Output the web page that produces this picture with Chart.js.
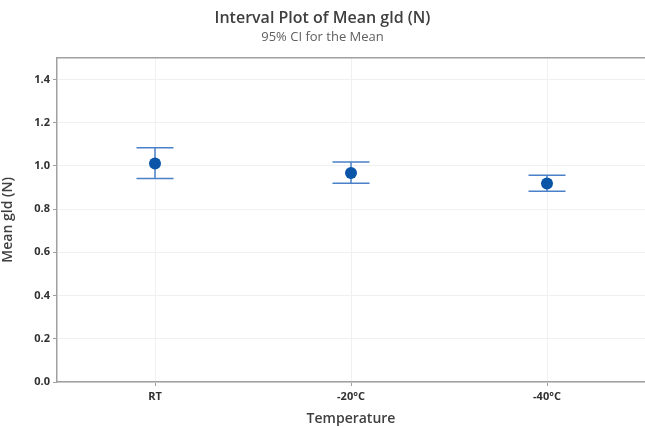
<!DOCTYPE html>
<html>
<head>
<meta charset="utf-8">
<script src="https://cdn.jsdelivr.net/npm/chart.js@4/dist/chart.umd.min.js"></script>
<style>
  html, body { margin: 0; padding: 0; background: #fff; overflow: hidden; }
  #wrap { width: 645px; height: 427px; }
  canvas { display: block; }
</style>
</head>
<body>
<div id="wrap"><canvas id="c" width="645" height="427"></canvas></div>
<script>
const categories = ["RT", "-20°C", "-40°C"];
const means = [1.011, 0.967, 0.918];
const lower = [0.941, 0.920, 0.883];
const upper = [1.084, 1.018, 0.957];
const yTicks = [0.0, 0.2, 0.4, 0.6, 0.8, 1.0, 1.2, 1.4];

const barColor = "#4a80c8";
const dotColor = "#0a55a8";
const font = "'Open Sans', 'Noto Sans', sans-serif";

// draws the CI whiskers and caps from the lower/upper arrays
const errorBars = {
    id: "errorBars",
    beforeDatasetsDraw(chart) {
        const ctx = chart.ctx;
        const xs = chart.scales.x, ys = chart.scales.y;
        ctx.save();
        ctx.strokeStyle = barColor;
        ctx.lineWidth = 1.5;
        categories.forEach((c, i) => {
            const x = xs.getPixelForValue(i);
            const yl = ys.getPixelForValue(lower[i]);
            const yu = ys.getPixelForValue(upper[i]);
            ctx.beginPath();
            ctx.moveTo(x, yl); ctx.lineTo(x, yu);
            ctx.moveTo(x - 18.5, yu); ctx.lineTo(x + 18.5, yu);
            ctx.moveTo(x - 18.5, yl); ctx.lineTo(x + 18.5, yl);
            ctx.stroke();
        });
        ctx.restore();
    },
    afterDraw(chart) {
        const ctx = chart.ctx;
        const a = chart.chartArea;
        ctx.save();
        ctx.strokeStyle = "#a0a0a0";
        ctx.lineWidth = 1.5;
        ctx.beginPath();
        ctx.moveTo(a.left, a.top); ctx.lineTo(a.right, a.top);
        ctx.stroke();
        ctx.restore();
    }
};

new Chart(document.getElementById("c").getContext("2d"), {
    type: "line",
    data: {
        labels: categories,
        datasets: [{
            data: means,
            showLine: false,
            pointRadius: 6,
            pointHoverRadius: 6,
            pointBackgroundColor: dotColor,
            pointBorderColor: dotColor,
            pointBorderWidth: 0
        }]
    },
    options: {
        responsive: false,
        animation: false,
        layout: { padding: 0, autoPadding: false },
        plugins: {
            legend: { display: false },
            tooltip: { enabled: false },
            title: {
                display: true,
                text: "Interval Plot of Mean gld (N)",
                color: "#404040",
                font: { family: font, size: 16, weight: "600" },
                padding: { top: 9, bottom: 0 }
            },
            subtitle: {
                display: true,
                text: "95% CI for the Mean",
                color: "#606060",
                font: { family: font, size: 13 },
                padding: { top: 1, bottom: 13 }
            }
        },
        scales: {
            x: {
                type: "category",
                offset: true,
                grid: { color: "#f0f0f0", offset: false, drawTicks: true, tickLength: 4, tickColor: "#a0a0a0" },
                border: { color: "#a0a0a0", width: 1.5 },
                ticks: { color: "#303030", font: { family: font, size: 11, weight: "bold" }, padding: 4 },
                title: {
                    display: true, text: "Temperature", color: "#404040",
                    font: { family: font, size: 14, weight: "600" }, padding: { top: 6, bottom: 0 }
                },
                afterFit: s => { s.height = 45; s.paddingLeft = 0; s.paddingRight = 0; }
            },
            y: {
                min: 0, max: 1.5,
                afterBuildTicks: s => { s.ticks = yTicks.map(v => ({ value: v })); },
                grid: { color: "#f0f0f0", tickLength: 4, tickColor: "#a0a0a0" },
                border: { color: "#a0a0a0", width: 1.5 },
                ticks: {
                    color: "#303030", font: { family: font, size: 11, weight: "bold" }, padding: 3,
                    callback: v => v.toFixed(1)
                },
                title: {
                    display: true, text: "Mean gld (N)", color: "#404040",
                    font: { family: font, size: 14, weight: "600" }, padding: { top: 0, bottom: 4 }
                },
                afterFit: s => { s.width = 57; s.paddingTop = 0; s.paddingBottom = 0; }
            }
        }
    },
    plugins: [errorBars]
});
</script>
</body>
</html>
